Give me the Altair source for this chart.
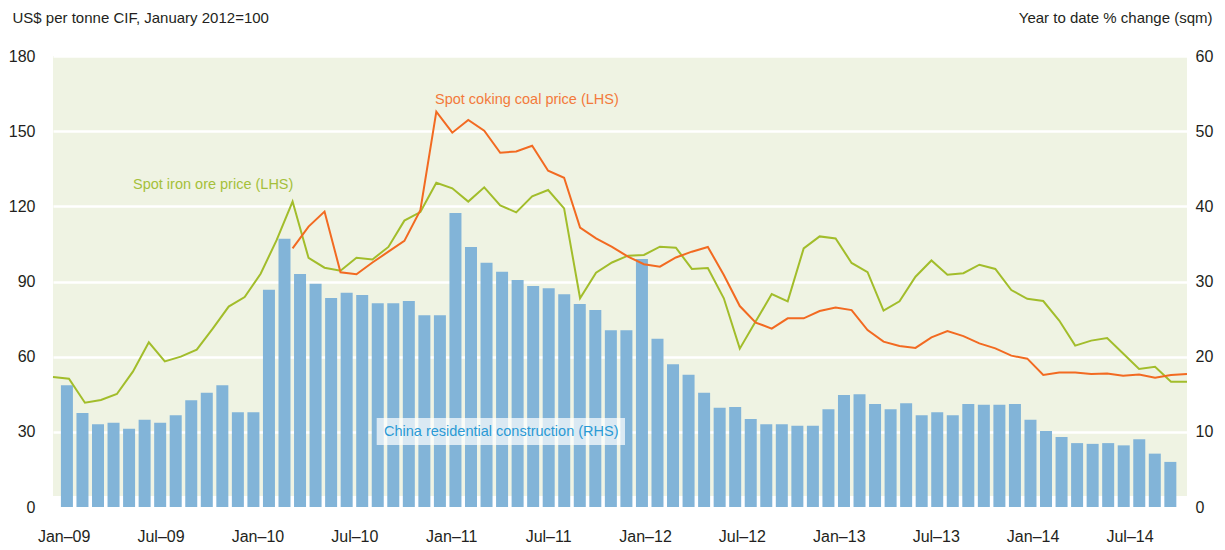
import altair as alt
import pandas as pd

# ---------------- data ----------------
month_index = list(range(72))  # Jan-09 ... Dec-14

tick_months = [0, 6, 12, 18, 24, 30, 36, 42, 48, 54, 60, 66]
tick_labels = ["Jan–09", "Jul–09", "Jan–10", "Jul–10", "Jan–11", "Jul–11",
               "Jan–12", "Jul–12", "Jan–13", "Jul–13", "Jan–14", "Jul–14"]

iron_ore = [51.9, 51.2, 41.6, 42.7, 45.1, 54.0, 65.7, 58.1, 60.0, 62.8,
            71.2, 80.0, 83.8, 93.1, 106.5, 121.9, 99.4, 95.5, 94.3, 99.5,
            98.8, 103.8, 114.3, 117.7, 129.4, 127.2, 121.9, 127.6, 120.4, 117.6,
            124.0, 126.5, 119.2, 83.3, 93.5, 97.6, 100.3, 100.6, 103.9, 103.5,
            95.0, 95.4, 83.3, 63.2, 74.1, 85.0, 82.1, 103.2, 108.0, 107.2,
            97.4, 93.7, 78.4, 82.1, 91.9, 98.4, 92.7, 93.3, 96.7, 95.0,
            86.6, 83.1, 82.2, 74.4, 64.4, 66.4, 67.4, 61.3, 55.1, 56.0, 50.0, 50.0]

coking_coal = [None] * 15 + [
            103.2, 111.9, 117.9, 93.7, 92.9,
            97.6, 101.9, 106.2, 118.5, 157.8, 149.4, 154.5, 150.2, 141.4, 141.9,
            144.2, 134.2, 131.4, 111.5, 107.2, 103.8, 99.9, 96.9, 95.9, 99.6,
            101.9, 103.8, 92.6, 80.2, 73.6, 71.2, 75.3, 75.3, 78.2, 79.6,
            78.6, 70.6, 66.0, 64.3, 63.5, 67.7, 70.2, 68.2, 65.3, 63.3,
            60.4, 59.2, 52.7, 53.7, 53.7, 53.1, 53.3, 52.4, 52.9, 51.6, 52.7, 53.1]

construction = [16.2, 12.5, 11.0, 11.2, 10.4, 11.6, 11.2, 12.2, 14.2, 15.2,
                16.2, 12.6, 12.6, 28.9, 35.7, 31.0, 29.7, 27.8, 28.5, 28.2,
                27.1, 27.1, 27.4, 25.5, 25.5, 39.1, 34.6, 32.5, 31.3, 30.2,
                29.4, 29.1, 28.3, 27.0, 26.2, 23.5, 23.5, 33.0, 22.4, 19.0,
                17.6, 15.2, 13.2, 13.3, 11.7, 11.0, 11.0, 10.8, 10.8, 13.0,
                14.9, 15.0, 13.7, 13.0, 13.8, 12.2, 12.6, 12.2, 13.7, 13.6,
                13.6, 13.7, 11.6, 10.1, 9.3, 8.5, 8.4, 8.5, 8.2, 9.0, 7.1, 6.0]

IRON = "Spot iron ore price (LHS)"
COAL = "Spot coking coal price (LHS)"
CONS = "China residential construction (RHS)"

# ---------------- style ----------------
W, H = 1134, 451
FONT = "Liberation Sans, Arial, sans-serif"
TXT = "#231F20"
BAR_C = "#82B4D8"
IRON_C = "#A2BD2B"
COAL_C = "#F26A21"
BG = "#EFF3E3"

bars_df = pd.DataFrame({"m": month_index, "v": construction})
lines_df = pd.DataFrame({
    "m": month_index + month_index,
    "series": [IRON] * 72 + [COAL] * 72,
    "v": iron_ore + coking_coal,
}).dropna()
ticks_df = pd.DataFrame({"m": tick_months, "label": tick_labels})
one = pd.DataFrame({"a": [0]})

label_js = "[" + ",".join("'" + t + "'" for t in tick_labels) + "]"

strip = alt.Chart(one).mark_rect(color="white").encode(
    x=alt.value(0), x2=alt.value(W), y=alt.value(H - 11), y2=alt.value(H))

bars = alt.Chart(bars_df).mark_bar(size=12, color=BAR_C).encode(
    x=alt.X("m:Q", scale=alt.Scale(domain=[-0.574, 71.75], nice=False, zero=False), axis=None),
    y=alt.Y("v:Q", scale=alt.Scale(domain=[0, 60], nice=False),
            axis=alt.Axis(orient="right", values=list(range(0, 61, 10)), grid=False,
                          domain=False, ticks=False, labelPadding=8,
                          title="Year to date % change (sqm)", titleAngle=0,
                          titleX=25, titleY=-39, titleAlign="right",
                          titleBaseline="middle")),
)

lines = alt.Chart(lines_df).mark_line(strokeWidth=2).encode(
    x=alt.X("m:Q", scale=alt.Scale(domain=[0, 71], nice=False, zero=False), axis=None),
    y=alt.Y("v:Q", scale=alt.Scale(domain=[0, 180], nice=False),
            axis=alt.Axis(orient="left", values=list(range(0, 181, 30)), grid=True,
                          gridColor="white", gridWidth=2.5, domain=False, ticks=False,
                          labelPadding=18,
                          title="US$ per tonne CIF, January 2012=100", titleAngle=0,
                          titleX=-41, titleY=-39, titleAlign="left",
                          titleBaseline="middle")),
    color=alt.Color("series:N", scale=alt.Scale(domain=[IRON, COAL], range=[IRON_C, COAL_C]),
                    legend=None),
)

xaxis = alt.Chart(ticks_df).mark_point(opacity=0).encode(
    x=alt.X("m:Q", scale=alt.Scale(domain=[-0.66, 69.56], nice=False, zero=False),
            axis=alt.Axis(values=tick_months, labelExpr=label_js + "[round(datum.value/6)]",
                          grid=False, ticks=False, domain=False, labelPadding=21,
                          title=None)),
)

box = alt.Chart(one).mark_rect(color="white", opacity=0.7).encode(
    x=alt.value(323.7), x2=alt.value(572), y=alt.value(362), y2=alt.value(389))


def label(text, color, x, y):
    return alt.Chart(one).mark_text(align="left", baseline="middle", font=FONT,
                                    fontSize=14.5, color=color).encode(
        x=alt.value(x), y=alt.value(y), text=alt.value(text))


chart = alt.layer(
    strip, bars, lines, xaxis, box,
    label(IRON, "#A5C03A", 80, 129),
    label(COAL, "#F37A3B", 382, 44),
    label(CONS, "#2A9AD5", 331, 376),
).resolve_scale(x="independent", y="independent").properties(
    width=W, height=H,
    autosize=alt.AutoSizeParams(type="none"),
    padding={"left": 45, "top": 48, "right": 30, "bottom": 40},
).configure_view(fill=BG, stroke=None).configure_axis(
    labelFont=FONT, labelFontSize=16, labelColor=TXT,
    titleFont=FONT, titleFontSize=15, titleFontWeight="normal", titleColor=TXT,
)

chart.save("out.html", embed_options={"renderer": "svg", "actions": False})
